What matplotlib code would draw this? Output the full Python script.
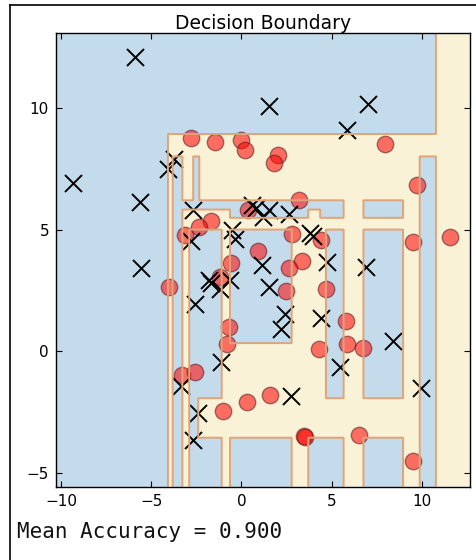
import numpy as np
import matplotlib
matplotlib.use("Agg")
import matplotlib.pyplot as plt
from matplotlib.colors import ListedColormap
from matplotlib.lines import Line2D

# class 1 points (red circles)
pos_x = [-2.77, -1.47, -0.04, 0.23, 2.04, 1.81, 7.97, 9.73, 3.21, 0.39,
         -1.69, -2.33, -3.14, 2.81, 4.44, 9.53, 11.58, 0.93, -0.58, 3.36,
         2.66, -1.17, -4.01, 2.47, 4.67, -0.71, 5.82, -0.77, 4.29, 5.84,
         6.73, -3.31, -2.58, -1.04, 0.31, 1.58, 3.45, 3.55, 6.54, 9.53]
pos_y = [8.74, 8.61, 8.68, 8.27, 8.06, 7.75, 8.51, 6.83, 6.22, 5.81,
         5.36, 5.11, 4.78, 4.82, 4.58, 4.50, 4.70, 4.10, 3.64, 3.69,
         3.44, 3.04, 2.64, 2.49, 2.56, 1.02, 1.23, 0.30, 0.11, 0.31,
         0.16, -0.95, -0.83, -2.43, -2.09, -1.77, -3.48, -3.52, -3.43, -4.51]

# class 0 points (black crosses)
neg_x = [-5.92, 1.54, 7.04, 5.84, -9.34, -3.75, -4.09, -5.64, -2.67, 0.58,
         0.83, 1.54, 1.21, 2.67, -0.53, -0.33, -2.77, 3.83, 3.97, -5.54,
         1.14, 4.75, 6.92, -1.81, -1.67, -1.17, -0.64, 1.56, -2.57, 2.44,
         4.40, 2.19, 8.43, -1.14, 5.47, -3.32, 2.76, 9.98, -2.38, -2.68]
neg_y = [12.09, 10.07, 10.15, 9.07, 6.90, 7.89, 7.48, 6.12, 5.81, 6.01,
         5.89, 5.81, 5.53, 5.64, 4.97, 4.62, 4.51, 4.84, 4.74, 3.44,
         3.53, 3.68, 3.48, 2.92, 2.82, 2.55, 2.94, 2.66, 1.93, 1.52,
         1.37, 0.90, 0.42, -0.44, -0.65, -1.43, -1.84, -1.52, -2.53, -3.63]

# decision tree leaves, painted in order on top of class 0 background
leaf_x0 = [-4.07, 10.79, -3.82, -2.68, -3.82, -0.64, 4.36, 6.77, 9.88, -2.90,
           -2.90, -0.64, 4.69, 6.77, -2.90, -0.64, 3.71, 6.77]
leaf_x1 = [13.0, 13.0, -3.27, -2.34, 5.66, 3.71, 5.66, 8.96, 10.79, -1.10,
           -2.39, 2.79, 5.66, 8.96, -1.10, 2.79, 5.66, 8.96]
leaf_y0 = [-6.0, -6.0, -6.0, 6.19, 5.81, 5.47, 5.47, 5.47, -6.0, -1.92,
           -3.54, 0.34, -1.92, -1.92, -6.0, -6.0, -6.0, -6.0]
leaf_y1 = [8.92, 14.0, 8.0, 8.0, 6.19, 5.81, 5.81, 6.19, 8.0, 4.99,
           -1.92, 4.99, 4.99, 4.99, -3.54, -3.54, -3.54, -3.54]
leaf_cls = [1, 1, 0, 0, 0, 0, 0, 0, 0, 0,
            0, 0, 0, 0, 0, 0, 0, 0]

accuracy = 0.900

x_min, x_max = -10.28, 12.68
y_min, y_max = -5.55, 13.05
xx, yy = np.meshgrid(np.arange(x_min, x_max, 0.02), np.arange(y_min, y_max, 0.02))
Z = np.zeros_like(xx)
for x0, x1, y0, y1, c in zip(leaf_x0, leaf_x1, leaf_y0, leaf_y1, leaf_cls):
    Z[(xx >= x0) & (xx < x1) & (yy >= y0) & (yy < y1)] = c

fig = plt.figure(figsize=(4.76, 5.6), dpi=100)
ax = fig.add_axes([0.1176, 0.1309, 0.8698, 0.8096])

ax.contourf(xx, yy, Z, levels=[-0.5, 0.5, 1.5],
            cmap=ListedColormap(['#c4dbeb', '#f9f2d7']))
ax.contour(xx, yy, Z, levels=[0.5], colors='#e0a478', linewidths=1.4)

ax.scatter(pos_x, pos_y, s=140, c='red', alpha=0.55, edgecolors='#5a1a1a', linewidths=1)
ax.scatter(neg_x, neg_y, s=150, c='black', marker='x', linewidths=1.4)

ax.set_xlim(x_min, x_max)
ax.set_ylim(y_min, y_max)
ax.set_xticks([-10, -5, 0, 5, 10])
ax.set_yticks([-5, 0, 5, 10])
ax.tick_params(direction='in', top=True, right=True, length=4, labelsize=11, pad=5)
for s in ax.spines.values():
    s.set_linewidth(1)
ax.set_title('Decision Boundary', fontsize=13.5, pad=3)

fig.text(0.036, 0.04, 'Mean Accuracy = %.3f' % accuracy, family='DejaVu Sans Mono',
         fontsize=15, color='#111111')

# screenshot frame
fig.add_artist(Line2D([10 / 476, 10 / 476], [0, 1 - 5 / 560], color='black', lw=1.2))
fig.add_artist(Line2D([10 / 476, 1], [1 - 5 / 560, 1 - 5 / 560], color='black', lw=1.2))

fig.savefig('out.png', dpi=100)
